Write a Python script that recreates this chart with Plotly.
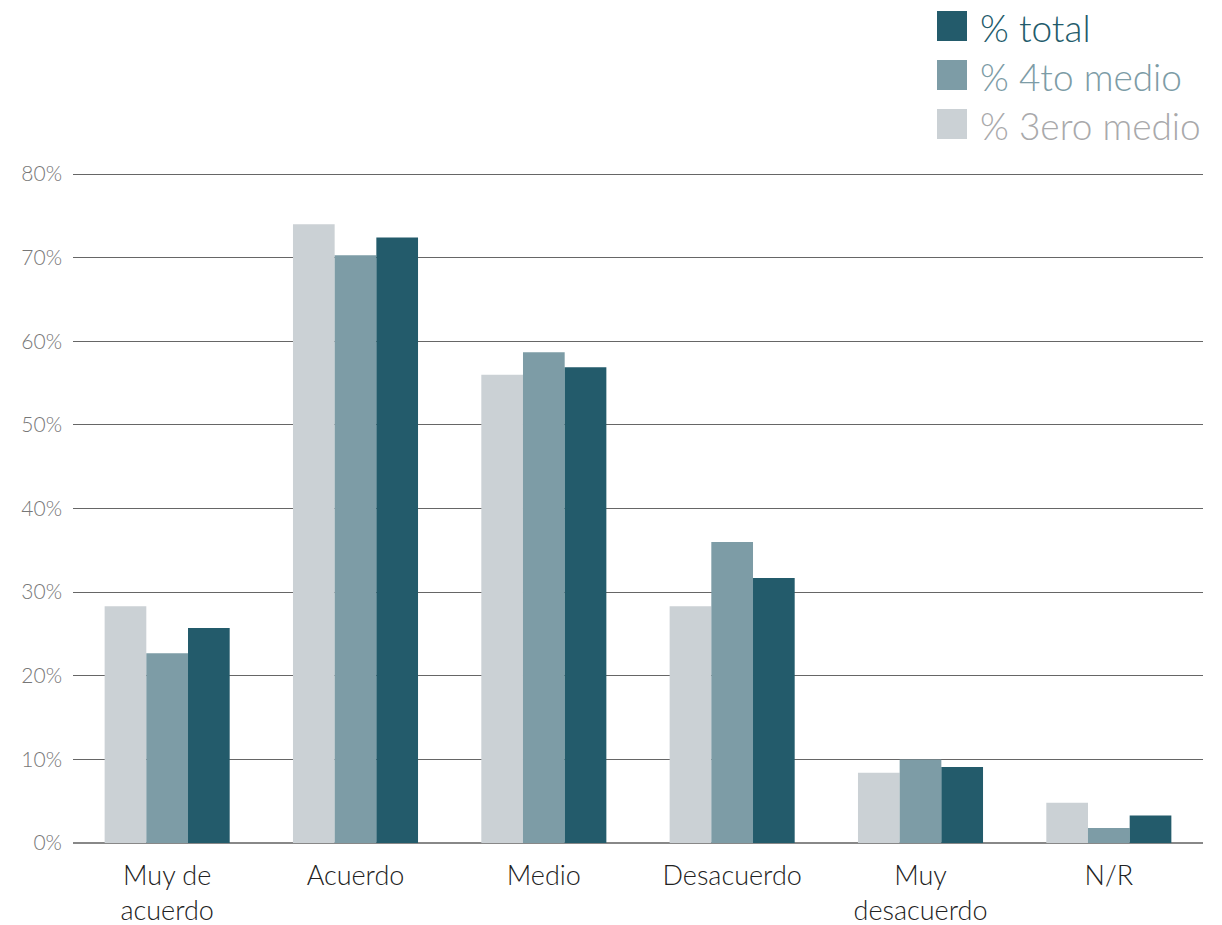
import plotly.graph_objects as go

categories = ["Muy de<br>acuerdo", "Acuerdo", "Medio", "Desacuerdo", "Muy<br>desacuerdo", "N/R"]
tercero = [28.3, 74.0, 56.0, 28.3, 8.4, 4.8]
cuarto = [22.7, 70.3, 58.7, 36.0, 10.0, 1.8]
total = [25.7, 72.4, 56.9, 31.7, 9.1, 3.3]
series_names = ["% 3ero medio", "% 4to medio", "% total"]
bar_colors = ["#CBD1D5", "#7D9CA6", "#235B6B"]
legend_text_colors = ["#A9A9AB", "#7D9CA6", "#235B6B"]
y_ticks = [0, 10, 20, 30, 40, 50, 60, 70, 80]
y_ticklabels = [f"{v}%" for v in y_ticks]
y_max = 80.6

fig = go.Figure()
for name, vals, col in zip(series_names, [tercero, cuarto, total], bar_colors):
    fig.add_trace(go.Bar(x=categories, y=vals, name=name, marker=dict(color=col, line=dict(width=0))))

W, H = 1222, 925
# 80% line at page y=174, 0% at 843; plot x 73..1203
unit = (843 - 174) / 80.0
top_px = 843 - y_max * unit
L, T = 73, top_px
R = W - 1203
B = H - 843
pw, ph = W - L - R, H - T - B

def px(x):
    return (x - L) / pw

def py(y):
    return (H - B - y) / ph

shapes = []
annotations = []
legend_order = [2, 1, 0]
for i, idx in enumerate(legend_order):
    cy = 26 + 49 * i
    shapes.append(dict(type="rect", xref="paper", yref="paper",
                       x0=px(937), x1=px(967), y0=py(cy + 15), y1=py(cy - 15),
                       fillcolor=bar_colors[idx], line=dict(width=0)))
    annotations.append(dict(xref="paper", yref="paper", x=px(978), y=py(cy + 1),
                            xanchor="left", yanchor="middle", showarrow=False,
                            text=series_names[idx],
                            font=dict(size=37, color=legend_text_colors[idx], family="Lato", weight=300)))

fig.update_layout(
    width=W, height=H,
    margin=dict(l=L, r=R, t=T, b=B, autoexpand=False),
    plot_bgcolor="white", paper_bgcolor="white",
    barmode="group", bargap=0.336, bargroupgap=0,
    showlegend=False,
    font=dict(family="Lato", color="#333333", weight=300),
    shapes=shapes, annotations=annotations,
)
fig.update_yaxes(range=[0, y_max], tickvals=y_ticks, ticktext=y_ticklabels,
                 showgrid=True, gridcolor="#666666", gridwidth=1,
                 zeroline=True, zerolinecolor="#888888", zerolinewidth=1.5,
                 tickfont=dict(size=21, color="#777777", weight=300), ticks="", showline=False,
                 ticklabelstandoff=10, automargin=False)
fig.update_xaxes(tickfont=dict(size=27, color="#222222", weight=300), showline=False, ticks="",
                 ticklabelstandoff=14, automargin=False)

fig.write_html("out.html", config={"displayModeBar": False},
               post_script="document.body.style.margin='0';document.body.style.overflow='hidden';")
